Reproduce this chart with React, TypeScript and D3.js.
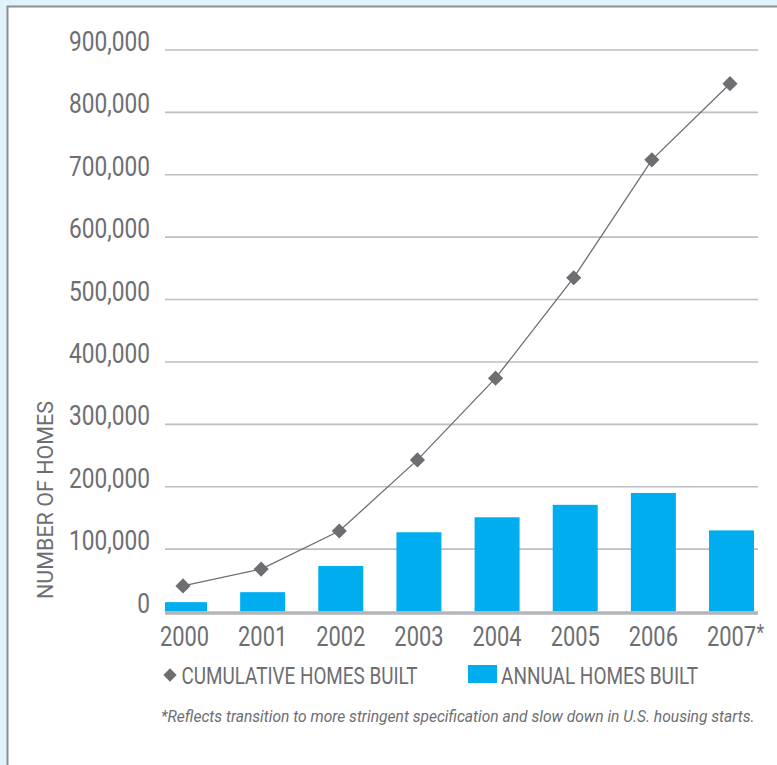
import React from "react";
import * as d3 from "d3";

const years = ["2000", "2001", "2002", "2003", "2004", "2005", "2006", "2007*"];
const annualHomes = [15000, 31000, 73000, 127000, 151000, 171000, 190000, 130000];
const cumulativeHomes = [41000, 68000, 129000, 243000, 374000, 535000, 724000, 846000];
const yTicks = [0, 100000, 200000, 300000, 400000, 500000, 600000, 700000, 800000, 900000];
const legendLabels = ["CUMULATIVE HOMES BUILT", "ANNUAL HOMES BUILT"];
const yTitle = "NUMBER OF HOMES";
const footnote = "*Reflects transition to more stringent specification and slow down in U.S. housing starts.";

const W = 777;
const H = 765;
const GRAY = "#6d6e71";
const BLUE = "#00aeef";
const FONT = "Roboto, 'Liberation Sans', sans-serif";
const SX = 0.81;

function CText(props: any) {
  const { x, y, sx = SX, rotate = 0, children, ...rest } = props;
  return (
    <text
      transform={`translate(${x},${y}) rotate(${rotate}) scale(${sx},1)`}
      fontFamily={FONT}
      fill={GRAY}
      {...rest}
    >
      {children}
    </text>
  );
}

export default function App() {
  const x = d3.scalePoint<string>().domain(years).range([183, 730]);
  const y = d3.scaleLinear().domain([0, 900000]).range([611.5, 50]);
  const barW = 45;
  const barOff = 1.5;
  const plotLeft = 165;
  const plotRight = 758;

  const line = d3
    .line<number>()
    .x((_, i) => x(years[i]) as number)
    .y((d) => y(d))
    .curve(d3.curveLinear);

  const diamond = d3.symbol().type(d3.symbolSquare).size(115)();
  const diamondSmall = d3.symbol().type(d3.symbolSquare).size(88)();

  return (
    <svg
      width={W}
      height={H}
      style={{ position: "absolute", left: 0, top: 0, display: "block" }}
    >
      <rect x={0} y={0} width={W} height={H} fill="#e0f3fa" />
      <rect x={7.5} y={6.5} width={W + 10} height={H + 10} fill="#ffffff" stroke="#8c8e90" strokeWidth={2} />
      <defs>
        <clipPath id="plotclip">
          <rect x={plotLeft} y={0} width={plotRight - plotLeft} height={H} />
        </clipPath>
      </defs>

      {/* gridlines */}
      {yTicks.filter((t) => t > 0).map((t) => (
        <line key={t} x1={plotLeft} x2={plotRight} y1={y(t)} y2={y(t)} stroke="#bcbec0" strokeWidth={1.6} />
      ))}

      {/* y tick labels */}
      {yTicks.map((t) => (
        <CText key={t} x={150} y={y(t) + 1} fontSize={28} textAnchor="end">
          {d3.format(",")(t)}
        </CText>
      ))}

      {/* bars */}
      <g clipPath="url(#plotclip)">
        {annualHomes.map((v, i) => (
          <rect
            key={years[i]}
            x={(x(years[i]) as number) + barOff - barW / 2}
            y={y(v)}
            width={barW}
            height={y(0) - y(v)}
            fill={BLUE}
          />
        ))}
      </g>

      {/* baseline */}
      <line x1={plotLeft} x2={plotRight} y1={y(0) + 1.5} y2={y(0) + 1.5} stroke="#b3b5b8" strokeWidth={3.5} />

      {/* cumulative line */}
      <path d={line(cumulativeHomes) || ""} fill="none" stroke={GRAY} strokeWidth={1.3} />
      {cumulativeHomes.map((v, i) => (
        <path
          key={years[i]}
          d={diamond || ""}
          transform={`translate(${x(years[i])},${y(v)}) rotate(45)`}
          fill={GRAY}
        />
      ))}

      {/* x labels */}
      {years.map((yr) => {
        const star = yr.endsWith("*");
        const base = star ? yr.slice(0, -1) : yr;
        const cx = (x(yr) as number) + 1.5;
        return (
          <g key={yr}>
            <CText x={cx} y={646} fontSize={27} textAnchor="middle">
              {base}
            </CText>
            {star && (
              <CText x={cx + 25} y={640} fontSize={22} textAnchor="start">
                *
              </CText>
            )}
          </g>
        );
      })}

      {/* y title */}
      <CText x={53} y={500} rotate={-90} fontSize={21.5} textAnchor="middle" sx={1.0}>
        {yTitle}
      </CText>

      {/* legend */}
      <path d={diamondSmall || ""} transform="translate(170,675) rotate(45)" fill={GRAY} />
      <CText x={181.5} y={683.5} fontSize={24.5} textAnchor="start" sx={0.77}>
        {legendLabels[0]}
      </CText>
      <rect x={468} y={665} width={29} height={18} fill={BLUE} />
      <CText x={501} y={683.5} fontSize={24.5} textAnchor="start" sx={0.775}>
        {legendLabels[1]}
      </CText>

      {/* footnote */}
      <CText x={161} y={722} fontSize={16.5} fontStyle="italic" textAnchor="start" sx={0.945}>
        {footnote}
      </CText>
    </svg>
  );
}
